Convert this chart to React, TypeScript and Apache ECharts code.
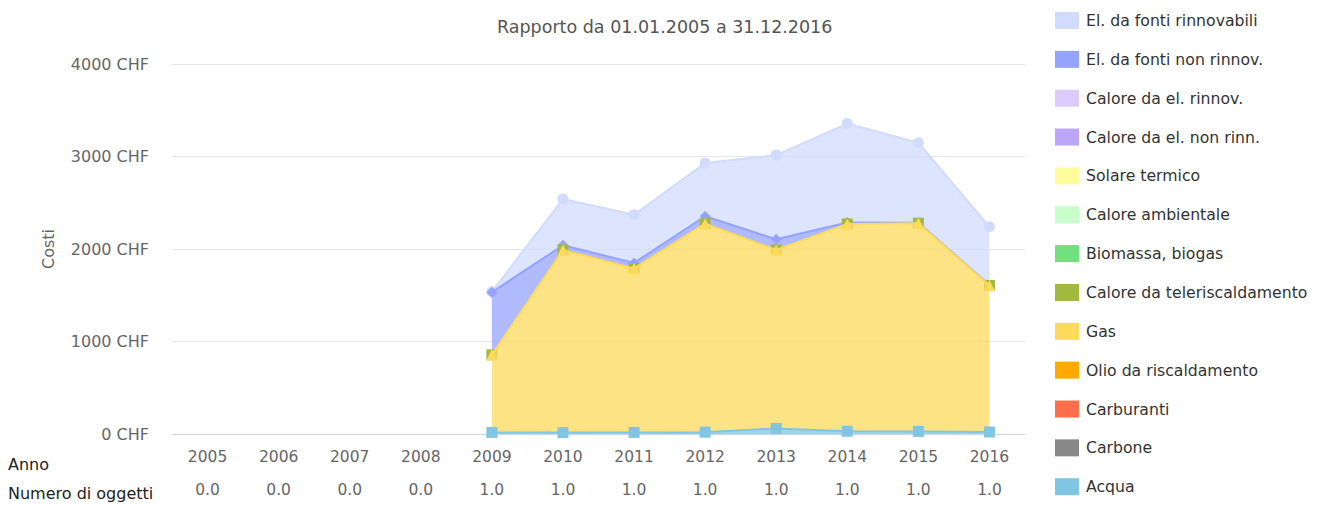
import React, { useEffect, useRef } from "react";
import * as echarts from "echarts";

const years = ["2005", "2006", "2007", "2008", "2009", "2010", "2011", "2012", "2013", "2014", "2015", "2016"];
const objectCounts = ["0.0", "0.0", "0.0", "0.0", "1.0", "1.0", "1.0", "1.0", "1.0", "1.0", "1.0", "1.0"];
const yTicks = [0, 1000, 2000, 3000, 4000];

const elRinnov = [null, null, null, null, 5, 500, 520, 575, 910, 1070, 865, 630];
const elNonRinnov = [null, null, null, null, 677, 50, 60, 80, 115, 15, 5, 5];
const caloreElRinnov = [null, null, null, null, null, null, null, null, null, null, null, null];
const caloreElNonRinn = [null, null, null, null, null, null, null, null, null, null, null, null];
const solareTermico = [null, null, null, null, null, null, null, null, null, null, null, null];
const caloreAmbientale = [null, null, null, null, null, null, null, null, null, null, null, null];
const biomassa = [null, null, null, null, null, null, null, null, null, null, null, null];
const teleriscaldamento = [null, null, null, null, 0, 0, 0, 0, 0, 0, 0, 0];
const gas = [null, null, null, null, 839, 1975, 1773, 2254, 1930, 2241, 2251, 1583];
const olio = [null, null, null, null, null, null, null, null, null, null, null, null];
const carburanti = [null, null, null, null, null, null, null, null, null, null, null, null];
const carbone = [null, null, null, null, null, null, null, null, null, null, null, null];
const acqua = [null, null, null, null, 17, 15, 17, 20, 60, 30, 28, 22];

// legend / drawing order (top of stack first)
const seriesDefs = [
  { name: "El. da fonti rinnovabili", data: elRinnov, color: "#d1dbfd", symbol: "circle", line: 1 },
  { name: "El. da fonti non rinnov.", data: elNonRinnov, color: "#94a3ff", symbol: "diamond", line: 1 },
  { name: "Calore da el. rinnov.", data: caloreElRinnov, color: "#dccbfd", symbol: "rect", line: 1 },
  { name: "Calore da el. non rinn.", data: caloreElNonRinn, color: "#bca6f8", symbol: "triangle", line: 1 },
  { name: "Solare termico", data: solareTermico, color: "#fffc9c", symbol: "path://M0,0 L10,0 L5,10 Z", line: 1 },
  { name: "Calore ambientale", data: caloreAmbientale, color: "#c8fdcc", symbol: "circle", line: 1 },
  { name: "Biomassa, biogas", data: biomassa, color: "#70e080", symbol: "diamond", line: 1 },
  { name: "Calore da teleriscaldamento", data: teleriscaldamento, color: "#a2b93f", symbol: "rect", line: 0 },
  { name: "Gas", data: gas, color: "#fdd95c", symbol: "triangle", line: 1 },
  { name: "Olio da riscaldamento", data: olio, color: "#ffaa00", symbol: "path://M0,0 L10,0 L5,10 Z", line: 1 },
  { name: "Carburanti", data: carburanti, color: "#ff6e4a", symbol: "circle", line: 1 },
  { name: "Carbone", data: carbone, color: "#888888", symbol: "diamond", line: 1 },
  { name: "Acqua", data: acqua, color: "#82c5e2", symbol: "rect", line: 1 },
];

const FONT = "DejaVu Sans";

export default function App() {
  const ref = useRef<HTMLDivElement>(null);
  useEffect(() => {
    if (!ref.current) return;
    const chart = echarts.init(ref.current, null, { renderer: "svg" });
    const series = seriesDefs
      .map((d, i) => ({
        name: d.name,
        type: "line",
        stack: "total",
        data: d.data,
        z: 2 + i,
        symbol: d.symbol,
        symbolSize: 11,
        showSymbol: true,
        showAllSymbol: true,
        connectNulls: false,
        itemStyle: { color: d.color, borderWidth: 0 },
        lineStyle: { color: d.color, width: 2, opacity: d.line },
        areaStyle: { color: d.color, opacity: 0.75 * d.line },
        emphasis: { disabled: true },
      }))
      .reverse();

    chart.setOption({
      animation: false,
      textStyle: { fontFamily: FONT },
      title: {
        text: "Rapporto da 01.01.2005 a 31.12.2016",
        left: 497,
        top: 18,
        padding: 0,
        textStyle: { fontFamily: FONT, fontSize: 17.5, fontWeight: "normal", color: "#555555" },
      },
      legend: {
        orient: "vertical",
        left: 1055,
        top: 12,
        padding: 0,
        icon: "rect",
        itemWidth: 24,
        itemHeight: 17,
        itemGap: 21.85,
        data: seriesDefs.map((d) => d.name),
        textStyle: { fontFamily: FONT, fontSize: 15.7, color: "#333333", lineHeight: 17, padding: [0, 0, 0, 2] },
        selectedMode: false,
      },
      grid: { left: 172, right: 298, top: 64, bottom: 72 },
      xAxis: {
        type: "category",
        data: years,
        boundaryGap: true,
        axisLine: { lineStyle: { color: "#ccd6eb", width: 1 } },
        axisTick: { alignWithLabel: true, length: 10, lineStyle: { color: "#ccd6eb" } },
        axisLabel: {
          margin: 6,
          interval: 0,
          formatter: (v: string, idx: number) => `{a|${v}}\n{b|${objectCounts[idx]}}`,
          rich: {
            a: { fontFamily: FONT, fontSize: 15.5, color: "#666666", lineHeight: 33 },
            b: { fontFamily: FONT, fontSize: 15.5, color: "#666666", lineHeight: 33 },
          },
        },
      },
      yAxis: {
        type: "value",
        min: yTicks[0],
        max: yTicks[yTicks.length - 1],
        interval: 1000,
        name: "Costi",
        nameLocation: "middle",
        nameRotate: 90,
        nameGap: 116,
        nameTextStyle: { fontFamily: FONT, fontSize: 16, color: "#666666" },
        axisLine: { show: false },
        axisTick: { show: false },
        splitLine: { lineStyle: { color: "#e6e6e6", width: 1 } },
        axisLabel: {
          margin: 23,
          fontFamily: FONT,
          fontSize: 16,
          color: "#666666",
          formatter: (v: number) => `${v} CHF`,
        },
      },
      graphic: [
        { type: "text", left: 8, top: 456, style: { text: "Anno", fontFamily: FONT, fontSize: 16, fill: "#222222" } },
        { type: "text", left: 8, top: 485, style: { text: "Numero di oggetti", fontFamily: FONT, fontSize: 16, fill: "#222222" } },
      ],
      series,
    });
    return () => chart.dispose();
  }, []);
  return <div ref={ref} style={{ width: 1323, height: 506, position: "absolute", left: 0, top: 0 }} />;
}
